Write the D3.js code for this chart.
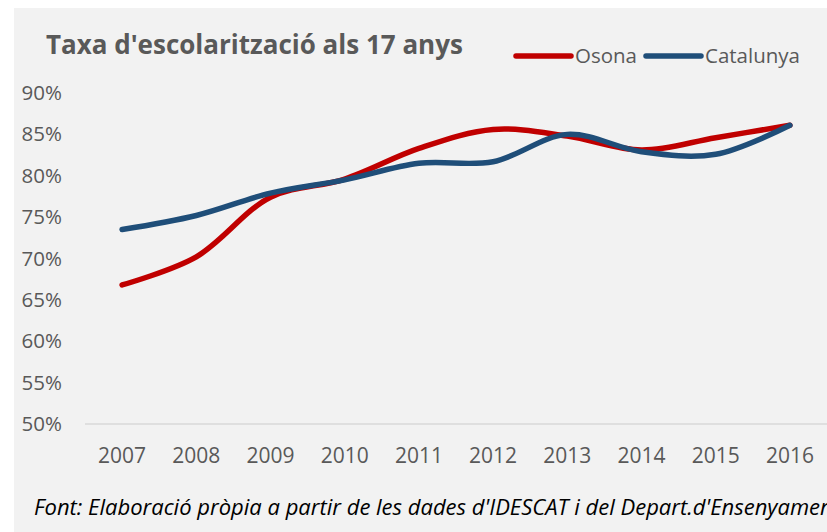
<!DOCTYPE html>
<html>
<head>
<meta charset="utf-8">
<script src="https://cdn.jsdelivr.net/npm/d3@7"></script>
<style>
  body { margin: 0; background: #fff; }
  text { font-family: "Open Sans", sans-serif; }
</style>
</head>
<body>
<script>
// data
var years = ["2007", "2008", "2009", "2010", "2011", "2012", "2013", "2014", "2015", "2016"];
var osona = [66.8, 70.2, 77.4, 79.6, 83.3, 85.6, 84.8, 83.1, 84.6, 86.1];
var catalunya = [73.5, 75.2, 77.9, 79.5, 81.5, 81.7, 85.0, 82.9, 82.6, 86.1];
var yTicks = [50, 55, 60, 65, 70, 75, 80, 85, 90];
var seriesNames = ["Osona", "Catalunya"];
var seriesColors = ["#c00000", "#1f4e79"];

var width = 827, height = 532;

var svg = d3.select("body").append("svg")
    .attr("width", width)
    .attr("height", height);

// grey chart area
svg.append("rect")
    .attr("x", 14).attr("y", 8)
    .attr("width", width - 14).attr("height", height - 8)
    .attr("fill", "#f2f2f2");

var x = d3.scaleBand().domain(years).range([85, 827]);
var y = d3.scaleLinear().domain([50, 90]).range([424, 93]);

// baseline
svg.append("line")
    .attr("x1", 85).attr("x2", 827)
    .attr("y1", y(50)).attr("y2", y(50))
    .attr("stroke", "#d9d9d9")
    .attr("stroke-width", 1.5);

// y axis labels
svg.append("g")
    .attr("transform", "translate(62,0)")
    .call(d3.axisLeft(y).tickValues(yTicks).tickSize(0).tickPadding(0)
      .tickFormat(function(d) { return d + "%"; }))
    .call(function(g) { g.select(".domain").remove(); })
    .selectAll("text")
      .attr("fill", "#595959")
      .style("font-size", "20.5px")
      .style("font-family", "'Open Sans', sans-serif");

// x axis labels
svg.append("g")
    .attr("transform", "translate(0," + y(50) + ")")
    .call(d3.axisBottom(x).tickSize(0).tickPadding(24))
    .call(function(g) { g.select(".domain").remove(); })
    .selectAll("text")
      .attr("fill", "#595959")
      .style("font-size", "21px")
      .style("font-family", "'Open Sans', sans-serif");

var line = d3.line()
    .x(function(d, i) { return x(years[i]) + x.bandwidth() / 2; })
    .y(function(d) { return y(d); })
    .curve(d3.curveCatmullRom.alpha(0.5));

[osona, catalunya].forEach(function(vals, i) {
  svg.append("path")
      .datum(vals)
      .attr("d", line)
      .attr("fill", "none")
      .attr("stroke", seriesColors[i])
      .attr("stroke-width", 5.5)
      .attr("stroke-linecap", "round");
});

// title
svg.append("text")
    .attr("x", 46).attr("y", 54)
    .attr("fill", "#595959")
    .style("font-size", "26px")
    .style("font-weight", "bold")
    .text("Taxa d'escolarització als 17 anys");

// legend
var legendX = [516, 646];
seriesNames.forEach(function(name, i) {
  var lg = svg.append("g").attr("transform", "translate(" + legendX[i] + ",56)");
  lg.append("line")
      .attr("x1", 0).attr("x2", 55)
      .attr("stroke", seriesColors[i])
      .attr("stroke-width", 5.5)
      .attr("stroke-linecap", "round");
  lg.append("text")
      .attr("x", 59).attr("y", 7)
      .attr("fill", "#595959")
      .style("font-size", "20.5px")
      .text(name);
});

// source note
svg.append("text")
    .attr("x", 34).attr("y", 515)
    .attr("fill", "#000")
    .style("font-size", "22px")
    .style("font-style", "italic")
    .text("Font: Elaboració pròpia a partir de les dades d'IDESCAT i del Depart.d'Ensenyament");
</script>
</body>
</html>
